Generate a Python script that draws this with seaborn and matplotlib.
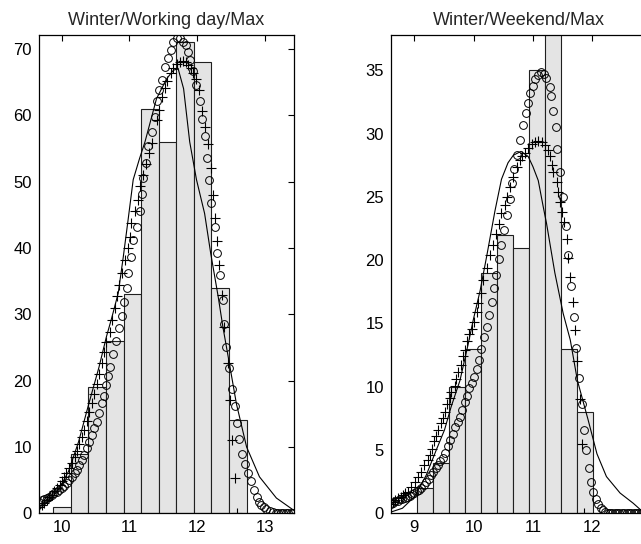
import numpy as np
import pandas as pd
import matplotlib
matplotlib.use('Agg')
import matplotlib.pyplot as plt
import seaborn as sns

# ---- Left panel: Winter / Working day / Max ----
left_centers = [9.746, 10.005, 10.265, 10.524, 10.784, 11.043, 11.302, 11.562, 11.821,
                12.081, 12.340, 12.600, 12.859, 13.119, 13.378]
left_counts = [0, 1, 9, 19, 26, 33, 61, 56, 71, 68, 34, 14, 0, 0, 0]

left_line_x = [9.665, 9.80, 9.95, 10.10, 10.25, 10.40, 10.55, 10.66, 10.74, 10.835, 10.91,
               10.98, 11.056, 11.15, 11.23, 11.40, 11.55, 11.65, 11.72, 11.80, 11.89, 11.99,
               12.11, 12.20, 12.31, 12.38, 12.46, 12.58, 12.73, 12.92, 13.17, 13.42]
left_line_y = [0.5, 1.8, 3.5, 6.3, 10.8, 16.5, 22.0, 26.6, 29.5, 33.2, 38.7,
               44.2, 50.3, 53.5, 56.0, 62.5, 65.5, 66.8, 67.0, 64.0, 56.0, 50.3,
               45.2, 39.2, 32.7, 28.1, 23.5, 16.5, 10.0, 5.5, 2.3, 0.5]

left_circ_x = [9.666, 9.705, 9.744, 9.779, 9.818, 9.853, 9.892, 9.926, 9.966, 10.0, 10.04,
               10.074, 10.11, 10.15, 10.19, 10.22, 10.26, 10.295, 10.33, 10.37, 10.41, 10.45,
               10.48, 10.52, 10.55, 10.59, 10.63, 10.65, 10.69, 10.71, 10.76, 10.80, 10.84,
               10.89, 10.92, 10.96, 10.98, 11.03, 11.06, 11.11, 11.155, 11.18, 11.20, 11.24,
               11.28, 11.33, 11.38, 11.40, 11.44, 11.475, 11.52, 11.57, 11.61, 11.65, 11.70,
               11.745, 11.785, 11.83, 11.87, 11.90, 11.94, 11.99, 12.04, 12.065, 12.11, 12.14,
               12.18, 12.21, 12.26, 12.30, 12.335, 12.375, 12.39, 12.43, 12.47, 12.52, 12.56,
               12.59, 12.62, 12.66, 12.70, 12.75, 12.80, 12.84, 12.88, 12.92, 12.95, 12.99,
               13.02, 13.07, 13.12, 13.16, 13.20, 13.24, 13.27, 13.31, 13.34, 13.38, 13.42]
left_circ_y = [1.76, 2.0, 2.1, 2.26, 2.5, 2.76, 3.0, 3.27, 3.5, 3.77, 4.1,
               4.5, 5.0, 5.5, 6.0, 6.5, 7.3, 8.0, 8.8, 9.8, 10.8, 11.8,
               12.8, 13.8, 15.1, 16.6, 17.7, 19.3, 20.7, 22.1, 24.0, 26.0, 27.9,
               29.8, 31.9, 34.0, 36.2, 38.7, 41.2, 43.2, 45.6, 48.2, 50.5, 52.8,
               55.3, 57.5, 59.8, 62.1, 63.8, 65.3, 67.3, 68.6, 69.8, 71.1, 71.6,
               71.6, 71.1, 70.6, 69.6, 68.3, 66.6, 64.6, 62.1, 59.5, 56.8, 53.5,
               50.3, 46.7, 43.2, 39.2, 35.9, 32.2, 28.6, 25.1, 21.9, 18.8, 16.1,
               13.6, 11.2, 9.0, 7.4, 6.0, 4.8, 3.5, 2.5, 1.76, 1.26, 0.9,
               0.6, 0.4, 0.2, 0.12, 0.08, 0.05, 0.03, 0.02, 0.01, 0.0, 0.0]

left_plus_x = [9.666, 9.705, 9.744, 9.78, 9.82, 9.85, 9.89, 9.93, 9.97, 10.0, 10.04, 10.07,
               10.11, 10.15, 10.19, 10.22, 10.26, 10.295, 10.33, 10.37, 10.41, 10.45, 10.48,
               10.52, 10.55, 10.59, 10.63, 10.66, 10.71, 10.74, 10.78, 10.81, 10.85, 10.885,
               10.93, 10.98, 11.01, 11.03, 11.08, 11.13, 11.155, 11.20, 11.24, 11.29, 11.33,
               11.40, 11.44, 11.485, 11.52, 11.56, 11.61, 11.65, 11.70, 11.745, 11.79, 11.83,
               11.87, 11.91, 11.94, 11.98, 12.02, 12.07, 12.11, 12.16, 12.20, 12.24, 12.27,
               12.30, 12.33, 12.37, 12.39, 12.46, 12.48, 12.51, 12.56, 12.59]
left_plus_y = [0.9, 1.3, 1.6, 2.0, 2.4, 2.8, 3.3, 3.8, 4.3, 4.9, 5.5, 6.1,
               6.8, 7.6, 8.5, 9.4, 10.5, 11.5, 12.6, 13.9, 15.2, 16.6, 18.0,
               19.5, 21.0, 22.7, 24.3, 25.8, 27.4, 29.2, 30.9, 32.7, 34.4, 36.2,
               38.2, 40.0, 41.7, 43.7, 45.5, 47.3, 49.3, 51.0, 52.7, 54.3, 55.8,
               59.3, 60.8, 62.8, 64.1, 65.2, 66.3, 67.1, 67.8, 68.1, 68.2, 68.0,
               67.6, 67.1, 66.3, 65.4, 63.8, 60.6, 58.3, 55.7, 52.0, 48.0, 44.5,
               41.0, 37.5, 32.9, 28.1, 22.6, 17.1, 11.1, 5.3, 0.0]

# ---- Right panel: Winter / Weekend / Max ----
right_centers = [8.905, 9.176, 9.446, 9.717, 9.988, 10.259, 10.529, 10.800, 11.071,
                 11.342, 11.613, 11.883, 12.154, 12.425, 12.695, 12.966]
right_counts = [0, 2, 4, 10, 13, 19, 22, 21, 35, 40, 13, 8, 0, 0, 0, 0]

right_line_x = [8.607, 8.80, 9.00, 9.20, 9.37, 9.51, 9.62, 9.77, 9.905, 9.995, 10.11,
                10.22, 10.36, 10.47, 10.58, 10.67, 10.80, 10.92, 11.00, 11.09, 11.175,
                11.23, 11.37, 11.51, 11.63, 11.75, 11.93, 12.08, 12.24, 12.47, 12.69, 12.81,
                12.90]
right_line_y = [0.1, 0.4, 1.3, 3.0, 5.0, 6.6, 8.4, 10.5, 13.3, 15.3, 17.6,
                20.3, 23.9, 26.4, 27.7, 28.3, 28.6, 28.2, 27.4, 26.3, 24.2,
                22.9, 19.0, 15.8, 13.7, 10.5, 7.4, 4.7, 2.9, 1.6, 0.8, 0.3,
                0.2]

right_circ_x = [8.60, 8.64, 8.68, 8.72, 8.76, 8.80, 8.84, 8.88, 8.92, 8.96, 9.00, 9.04,
                9.08, 9.12, 9.16, 9.20, 9.24, 9.28, 9.32, 9.36, 9.40, 9.44, 9.48, 9.52,
                9.56, 9.60, 9.65, 9.69, 9.73, 9.77, 9.81, 9.85, 9.89, 9.93, 9.97, 10.01,
                10.05, 10.09, 10.13, 10.175, 10.22, 10.26, 10.31, 10.34, 10.38, 10.42,
                10.47, 10.52, 10.56, 10.61, 10.64, 10.68, 10.73, 10.78, 10.83, 10.88,
                10.91, 10.95, 11.00, 11.04, 11.09, 11.14, 11.18, 11.22, 11.28, 11.30,
                11.34, 11.39, 11.41, 11.46, 11.51, 11.56, 11.60, 11.65, 11.70, 11.73,
                11.77, 11.82, 11.86, 11.90, 11.94, 11.98, 12.02, 12.06, 12.10, 12.14,
                12.18, 12.22, 12.26, 12.30, 12.34, 12.38, 12.42, 12.46, 12.50, 12.54,
                12.58, 12.62, 12.66, 12.70, 12.74, 12.78, 12.82, 12.86]
right_circ_y = [0.75, 0.85, 0.95, 1.0, 1.1, 1.15, 1.2, 1.3, 1.4, 1.5, 1.6, 1.75,
                1.85, 2.0, 2.2, 2.45, 2.7, 3.0, 3.3, 3.55, 3.8, 4.1, 4.4, 4.8,
                5.3, 5.8, 6.3, 6.8, 7.2, 7.6, 8.2, 8.8, 9.3, 9.9, 10.3, 10.8,
                11.4, 12.1, 13.0, 13.9, 14.7, 15.7, 16.7, 17.8, 18.8, 20.1,
                21.2, 22.4, 23.6, 24.8, 26.1, 27.2, 28.3, 29.5, 30.7, 31.6,
                32.4, 33.2, 33.75, 34.3, 34.6, 34.85, 34.7, 34.4, 33.7, 33.0,
                31.8, 30.5, 28.8, 27.0, 25.0, 22.7, 20.4, 18.0, 15.5, 13.1,
                10.7, 8.6, 6.6, 5.0, 3.55, 2.5, 1.7, 1.15, 0.75, 0.45,
                0.25, 0.12, 0.05, 0.02, 0.0, 0.0, 0.0, 0.0, 0.0, 0.0,
                0.0, 0.0, 0.0, 0.0, 0.0, 0.0, 0.0, 0.0]

right_plus_x = [8.60, 8.64, 8.68, 8.725, 8.77, 8.81, 8.85, 8.89, 8.95, 9.006, 9.06, 9.12,
                9.17, 9.23, 9.26, 9.29, 9.34, 9.37, 9.40, 9.455, 9.48, 9.51, 9.556, 9.596,
                9.624, 9.68, 9.71, 9.736, 9.79, 9.82, 9.85, 9.89, 9.93, 9.97, 10.00, 10.05,
                10.08, 10.12, 10.16, 10.22, 10.28, 10.33, 10.38, 10.42, 10.47, 10.53, 10.56,
                10.61, 10.67, 10.73, 10.78, 10.82, 10.87, 10.92, 10.98, 11.035, 11.09, 11.15,
                11.20, 11.26, 11.29, 11.32, 11.34, 11.40, 11.43, 11.46, 11.49, 11.52, 11.57,
                11.60, 11.63, 11.68, 11.71, 11.75, 11.80, 11.83, 11.86]
right_plus_y = [0.75, 0.92, 1.05, 1.18, 1.3, 1.45, 1.58, 1.71, 2.1, 2.5, 2.9, 3.3,
                3.8, 4.2, 4.6, 5.1, 5.7, 6.1, 6.6, 7.1, 7.5, 8.0, 8.6, 9.1,
                9.6, 10.1, 10.6, 11.2, 11.7, 12.4, 12.9, 13.6, 14.2, 14.6, 15.1, 15.9,
                16.6, 17.4, 18.4, 19.4, 20.4, 21.2, 22.1, 22.9, 23.7, 24.4, 25.0,
                25.8, 26.6, 27.4, 27.9, 28.2, 28.5, 28.9, 29.2, 29.35, 29.4, 29.35,
                29.1, 28.7, 28.2, 27.5, 27.0, 26.2, 25.4, 24.6, 23.8, 23.0, 21.7,
                20.2, 18.7, 16.7, 14.5, 12.0, 9.0, 5.5, 0.0]

left_title = 'Winter/Working day/Max'
right_title = 'Winter/Weekend/Max'


def draw_panel(ax, centers, counts, line_x, line_y, circ_x, circ_y, plus_x, plus_y):
    # histogram bars from the bin centres and counts
    w = centers[1] - centers[0]
    edges = [c - w / 2 for c in centers] + [centers[-1] + w / 2]
    hist_df = pd.DataFrame({'centre': centers, 'count': counts})
    sns.histplot(data=hist_df, x='centre', weights='count', bins=edges, ax=ax,
                 color='#e4e4e4', edgecolor='#202020', linewidth=0.8, alpha=1)
    sns.lineplot(x=line_x, y=line_y, ax=ax, color='k', linewidth=0.8,
                 estimator=None, sort=False)
    sns.lineplot(x=circ_x, y=circ_y, ax=ax, estimator=None, sort=False, linestyle='none',
                 marker='o', markersize=5.6, markerfacecolor='none',
                 markeredgecolor='k', markeredgewidth=0.7)
    sns.lineplot(x=plus_x, y=plus_y, ax=ax, estimator=None, sort=False, linestyle='none',
                 marker='+', markersize=6.5, color='k', markeredgecolor='k',
                 markeredgewidth=0.8)
    ax.set_xlabel('')
    ax.set_ylabel('')
    ax.tick_params(direction='in', top=True, right=True, length=4, width=0.8,
                   labelsize=12, pad=5, colors='k')
    for s in ax.spines.values():
        s.set_color('k')
        s.set_linewidth(0.9)
        s.set_visible(True)


sns.set_style('white')
plt.rcParams['font.family'] = ['Liberation Sans', 'DejaVu Sans']

fig = plt.figure(figsize=(6.41, 5.44), dpi=100)
ax1 = fig.add_axes([39 / 641, 1 - 513.3 / 544, 255 / 641, 478.3 / 544])
# right panel runs past the picture's right edge, as in the reference
ax2 = fig.add_axes([391 / 641, 1 - 513.3 / 544, 262 / 641, 478.3 / 544])

draw_panel(ax1, left_centers, left_counts, left_line_x, left_line_y,
           left_circ_x, left_circ_y, left_plus_x, left_plus_y)
ax1.set_xlim(9.665, 13.43)
ax1.set_ylim(0, 72.1)
ax1.set_xticks([10, 11, 12, 13])
ax1.set_yticks([0, 10, 20, 30, 40, 50, 60, 70])
ax1.set_title(left_title, fontsize=13, pad=7)

draw_panel(ax2, right_centers, right_counts, right_line_x, right_line_y,
           right_circ_x, right_circ_y, right_plus_x, right_plus_y)
ax2.set_xlim(8.607, 13.025)
ax2.set_ylim(0, 37.8)
ax2.set_xticks([9, 10, 11, 12])
ax2.set_yticks([0, 5, 10, 15, 20, 25, 30, 35])
ax2.set_title(right_title, fontsize=13, pad=7)
# centre the right title on the visible 255 px, like the reference
ax2.title.set_position((255 / 262 / 2, 1.0))

fig.savefig('out.png', dpi=100)
